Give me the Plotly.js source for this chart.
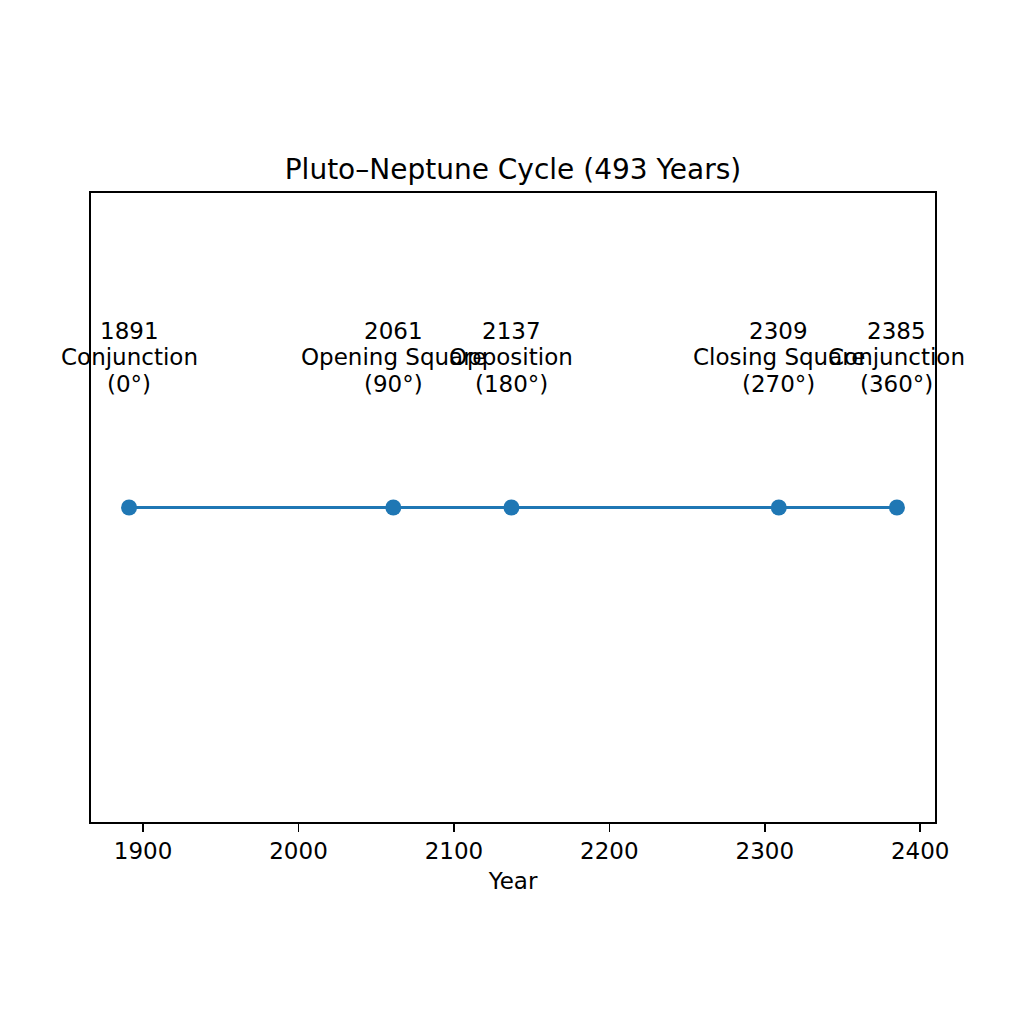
<!DOCTYPE html>
<html>
<head>
<meta charset="utf-8">
<script src="https://cdn.plot.ly/plotly-3.0.1.min.js"></script>
<style>html,body{margin:0;padding:0;background:#fff;}</style>
</head>
<body>
<div id="chart" style="width:1024px;height:1024px;"></div>
<script>
const years = [1891, 2061, 2137, 2309, 2385];
const phases = ["Conjunction", "Opening Square", "Opposition", "Closing Square", "Conjunction"];
const angles = ["0°", "90°", "180°", "270°", "360°"];
const yValues = [0, 0, 0, 0, 0];
const xTicks = [1900, 2000, 2100, 2200, 2300, 2400];

const fontFam = "DejaVu Sans, sans-serif";
const lineShifts = [177, 151, 124];
const annotations = [];
years.forEach((yr, i) => {
  const lines = [String(yr), phases[i], '(' + angles[i] + ')'];
  lines.forEach((t, j) => {
    annotations.push({
      x: yr, y: yValues[i], xref: 'x', yref: 'y', yshift: lineShifts[j],
      text: t, showarrow: false, xanchor: 'center', yanchor: 'middle', align: 'center',
      font: {family: fontFam, size: 23, color: '#000'}
    });
  });
});

const trace = {
  x: years, y: yValues, mode: 'lines+markers', type: 'scatter',
  line: {color: '#1f77b4', width: 3.2},
  marker: {color: '#1f77b4', size: 16},
  hoverinfo: 'skip'
};

const layout = {
  width: 1024, height: 1024,
  paper_bgcolor: '#fff', plot_bgcolor: '#fff',
  margin: {l: 91, r: 89, t: 193, b: 202, pad: 0},
  showlegend: false,
  title: {text: 'Pluto–Neptune Cycle (493 Years)', font: {family: fontFam, size: 28, color: '#000'},
          x: 0.5, xref: 'paper', xanchor: 'center', y: 1, yref: 'paper', yanchor: 'bottom', pad: {b: 14}},
  xaxis: {range: [1866.5, 2409.5], tickvals: xTicks, ticktext: xTicks.map(String),
          showgrid: false, zeroline: false, showline: true, mirror: true, linecolor: '#000', linewidth: 1.6,
          ticks: 'outside', ticklen: 8, tickwidth: 1.6, tickcolor: '#000',
          tickfont: {family: fontFam, size: 23, color: '#000'},
          title: {text: 'Year', font: {family: fontFam, size: 23, color: '#000'}, standoff: 9}},
  yaxis: {range: [-0.055, 0.055], showticklabels: false, ticks: '', showgrid: false, zeroline: false,
          showline: true, mirror: true, linecolor: '#000', linewidth: 1.6},
  annotations: annotations
};

Plotly.newPlot('chart', [trace], layout, {displayModeBar: false, staticPlot: true});
</script>
</body>
</html>
